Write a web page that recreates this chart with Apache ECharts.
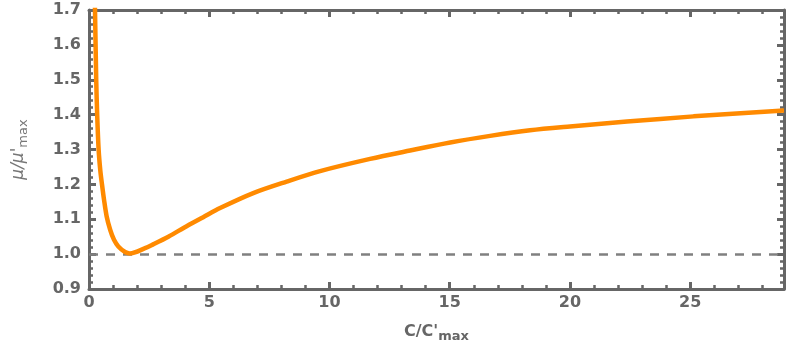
<!DOCTYPE html>
<html>
<head>
<meta charset="utf-8">
<script src="https://cdn.jsdelivr.net/npm/echarts@6/dist/echarts.min.js"></script>
<style>
html,body{margin:0;padding:0;background:#fff;}
#chart{width:789px;height:343px;}
</style>
</head>
<body>
<div id="chart"></div>
<script>
// Data
const xValues = [0.23, 0.25, 0.30, 0.34, 0.40, 0.47, 0.54, 0.625, 0.735, 0.88, 1.04, 1.22, 1.50, 1.70, 2.33, 2.67, 3.3, 4.06, 4.75, 5.45, 6.83, 8.22, 9.61, 11.69, 13.35, 15.02, 16.68, 18.34, 20.0, 22.37, 25.14, 28.9];
const yValues = [1.76, 1.70, 1.50, 1.40, 1.30, 1.24, 1.20, 1.156, 1.108, 1.070, 1.041, 1.022, 1.006, 1.002, 1.017, 1.028, 1.05, 1.080, 1.106, 1.132, 1.175, 1.208, 1.238, 1.273, 1.297, 1.320, 1.339, 1.355, 1.366, 1.380, 1.395, 1.412];
const referenceLevel = 1.0;
const xTicks = [0, 5, 10, 15, 20, 25];
const yTicks = [0.9, 1.0, 1.1, 1.2, 1.3, 1.4, 1.5, 1.6, 1.7];
const xRange = [0, 28.9];
const yRange = [0.9, 1.7];

const axisGray = '#666666';
const font = 'DejaVu Sans, Liberation Sans, Arial, sans-serif';
const labelStyle = {color: axisGray, fontSize: 16, fontWeight: 'bold', fontFamily: font};

const chart = echarts.init(document.getElementById('chart'), null, {renderer: 'canvas'});

function xAxisCfg(pos, show) {
  return {
    type: 'value', position: pos, min: xRange[0], max: xRange[1], interval: 5,
    axisLine: {show: true, onZero: false, lineStyle: {color: axisGray, width: 3}},
    axisTick: {show: true, inside: true, length: 7, lineStyle: {color: axisGray, width: 3}},
    minorTick: {show: true, splitNumber: 5, length: 4, lineStyle: {color: axisGray, width: 2.5}},
    splitLine: {show: false},
    axisLabel: show ? Object.assign({margin: 6, showMaxLabel: false, formatter: v => xTicks.includes(v) ? String(v) : ''}, labelStyle) : {show: false}
  };
}
function yAxisCfg(pos, show) {
  return {
    type: 'value', position: pos, min: yRange[0], max: yRange[1], interval: 0.1,
    axisLine: {show: true, onZero: false, lineStyle: {color: axisGray, width: 3}},
    axisTick: {show: true, inside: true, length: 7, lineStyle: {color: axisGray, width: 3}},
    minorTick: {show: true, splitNumber: 5, length: 4, lineStyle: {color: axisGray, width: 2.5}},
    splitLine: {show: false},
    axisLabel: show ? Object.assign({margin: 8, formatter: v => v.toFixed(1)}, labelStyle) : {show: false}
  };
}

const bottomX = xAxisCfg('bottom', true);
bottomX.name = '{m|C/C\'}{s|max}';
bottomX.nameLocation = 'middle';
bottomX.nameGap = 34;
bottomX.nameTextStyle = {
  rich: {
    m: {fontSize: 16, fontWeight: 'bold', color: axisGray, fontFamily: font, lineHeight: 18},
    s: {fontSize: 13, fontWeight: 'bold', color: axisGray, fontFamily: font, padding: [9, 0, 0, 0], lineHeight: 18}
  }
};

const leftY = yAxisCfg('left', true);
leftY.name = '{m|μ/μ\'}{s|max}';
leftY.nameLocation = 'middle';
leftY.nameRotate = 90;
leftY.nameGap = 60;
leftY.nameTextStyle = {
  rich: {
    m: {fontSize: 17, fontStyle: 'italic', color: '#777777', fontFamily: font, lineHeight: 20},
    s: {fontSize: 13, color: '#777777', fontFamily: font, padding: [9, 0, 0, 0], lineHeight: 20}
  }
};

chart.setOption({
  animation: false,
  backgroundColor: '#ffffff',
  grid: {left: 89, right: 5, top: 10, bottom: 54, containLabel: false, outerBoundsMode: 'none'},
  xAxis: [bottomX, xAxisCfg('top', false)],
  yAxis: [leftY, yAxisCfg('right', false)],
  series: [
    {
      type: 'line',
      xAxisIndex: 0, yAxisIndex: 0,
      data: xValues.map((x, i) => [x, yValues[i]]),
      smooth: 0.3,
      showSymbol: false,
      clip: true,
      lineStyle: {color: '#FF8A00', width: 4.5},
      z: 3,
      markLine: {
        silent: true, symbol: 'none', label: {show: false},
        lineStyle: {color: '#808080', width: 2.5, type: [9, 8]},
        data: [{yAxis: referenceLevel}],
        z: 2
      }
    }
  ]
});
</script>
</body>
</html>
